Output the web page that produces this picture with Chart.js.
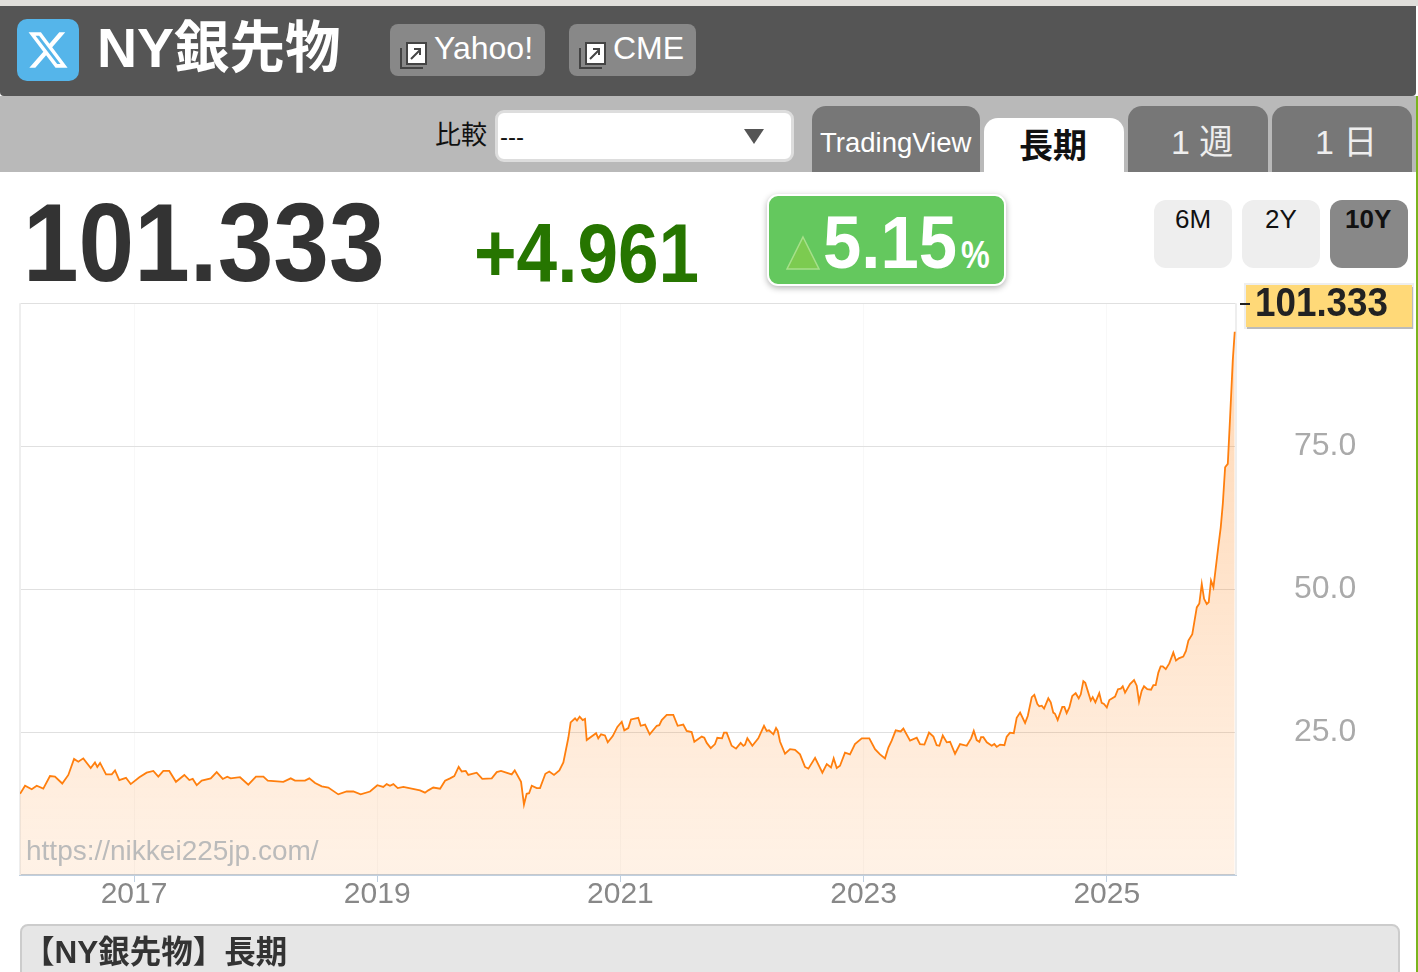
<!DOCTYPE html>
<html lang="ja">
<head>
<meta charset="utf-8">
<title>NY銀先物</title>
<script src="https://cdn.jsdelivr.net/npm/chart.js@4/dist/chart.umd.min.js"></script>
<style>
html, body { margin: 0; padding: 0; width: 1418px; height: 972px; overflow: hidden; background: #fff; }
body { font-family: "Liberation Sans", "Noto Sans CJK JP", sans-serif; position: relative; }
.box { position: absolute; box-sizing: border-box; }
.txt { position: absolute; white-space: nowrap; transform-origin: left top; line-height: 1; }
#topline { left: 0; top: 0; width: 1418px; height: 6px; background: #e0dfdb; }
#edge { left: 1416px; top: 96px; width: 2px; height: 876px; background: #7ab41e; }
#head { left: 0; top: 6px; width: 1416px; height: 90px; background: #555; border-radius: 0 0 4px 4px; }
#tabbar { left: 0; top: 96px; width: 1416px; height: 76px; background: #b9b9b9; }
#panel { left: 0; top: 172px; width: 1416px; height: 800px; background: #fff; border-radius: 5px 5px 0 0; }
#logo { left: 17px; top: 19px; width: 62px; height: 62px; background: #55b5ea; border-radius: 10px; }
.link { background: #888; border-radius: 8px; top: 24px; height: 52px; }
.tab { top: 106px; height: 66px; width: 140px; background: #777; border-radius: 14px 14px 0 0; }
.rng { top: 200px; width: 78px; height: 68px; background: #eee; border-radius: 12px; }
#sel { left: 495px; top: 110px; width: 299px; height: 52px; background: #fff; border: 3px solid #ddd; border-radius: 9px; }
#arrow { left: 744px; top: 129px; width: 0; height: 0; border-left: 10px solid transparent; border-right: 10px solid transparent; border-top: 15px solid #555; }
#badge { left: 767px; top: 194px; width: 239px; height: 92px; background: #64c85e; border: 2px solid #fff; border-radius: 11px; box-shadow: 0 2px 6px rgba(0,0,0,.3); }
#lastbox { left: 1246px; top: 285px; width: 166px; height: 42px; background: #ffd978; box-shadow: 1px 2px 0 #bbb, 0 0 0 2px #eee; }
#dash { left: 1240px; top: 303px; width: 10px; height: 2px; background: #222; }
#note { left: 20px; top: 924px; width: 1380px; height: 60px; background: #e6e6e6; border: 2px solid #ccc; border-radius: 8px 8px 0 0; }
#chart { position: absolute; left: 0; top: 284px; }
</style>
</head>
<body>
<div class="box" id="topline"></div>
<div class="box" id="head"></div>
<div class="box" id="tabbar"></div>
<div class="box" id="panel"></div>
<div class="box" id="edge"></div>

<div class="box" id="logo">
  <svg width="62" height="62" viewBox="0 0 24 24"><path transform="translate(3.6 3.6) scale(.7)" fill="#fff" d="M18.244 2.25h3.308l-7.227 8.26 8.502 11.24H16.17l-5.214-6.817L4.99 21.75H1.68l7.73-8.835L1.254 2.25H8.08l4.713 6.231zm-1.161 17.52h1.833L7.084 4.126H5.117z"/></svg>
</div>
<div class="txt" style="left:97px;top:21px;font-size:55.5px;font-weight:700;color:#fff">NY銀先物</div>

<div class="box link" style="left:390px;width:155px"></div>
<svg class="box" style="left:400px;top:40px" width="28" height="30" viewBox="0 0 28 30"><path d="M1 8v20h22" fill="none" stroke="#444" stroke-width="2"/><rect x="7" y="3" width="19" height="21" fill="#fff" stroke="#444" stroke-width="2"/><path d="M11 19l9-9M14 9h6v6" fill="none" stroke="#444" stroke-width="2"/></svg>
<div class="txt" style="left:434px;top:32px;font-size:32px;color:#fff">Yahoo!</div>
<div class="box link" style="left:569px;width:127px"></div>
<svg class="box" style="left:579px;top:40px" width="28" height="30" viewBox="0 0 28 30"><path d="M1 8v20h22" fill="none" stroke="#444" stroke-width="2"/><rect x="7" y="3" width="19" height="21" fill="#fff" stroke="#444" stroke-width="2"/><path d="M11 19l9-9M14 9h6v6" fill="none" stroke="#444" stroke-width="2"/></svg>
<div class="txt" style="left:613px;top:32px;font-size:32px;color:#fff">CME</div>

<div class="txt" style="left:435px;top:122px;font-size:26px;color:#111">比較</div>
<div class="box" id="sel"></div>
<div class="txt" style="left:500px;top:125px;font-size:24px;color:#111">---</div>
<div class="box" id="arrow"></div>

<div class="box tab" style="left:812px;width:168px"></div>
<div class="txt" style="left:820px;top:129px;font-size:27.5px;color:#fff">TradingView</div>
<div class="box tab" style="left:984px;top:118px;height:54px;background:#fff"></div>
<div class="txt" style="left:1019px;top:129px;font-size:34px;font-weight:700;color:#111">長期</div>
<div class="box tab" style="left:1128px"></div>
<div class="txt" style="left:1171px;top:125px;font-size:34px;color:#eee">1 週</div>
<div class="box tab" style="left:1272px"></div>
<div class="txt" style="left:1315px;top:125px;font-size:34px;color:#eee">1 日</div>

<div class="txt" style="left:23px;top:187px;font-size:112px;font-weight:700;color:#333;transform:scaleX(.893)">101.333</div>
<div class="txt" style="left:474px;top:211px;font-size:84px;font-weight:700;color:#267500;transform:scaleX(.868)">+4.961</div>

<div class="box" id="badge"></div>
<svg class="box" style="left:785px;top:234px" width="36" height="38" viewBox="0 0 36 38"><path d="M18 3L34 35H2z" fill="#7ccb50" stroke="#a6e08a" stroke-width="1.5"/></svg>
<div class="txt" style="left:823px;top:206px;font-size:74px;font-weight:700;color:#fff;transform:scaleX(.93)">5.15</div>
<div class="txt" style="left:961px;top:236px;font-size:38px;font-weight:700;color:#fff;transform:scaleX(.85)">%</div>

<div class="box rng" style="left:1154px"></div>
<div class="txt" style="left:1175px;top:206px;font-size:26px;color:#111">6M</div>
<div class="box rng" style="left:1242px"></div>
<div class="txt" style="left:1265px;top:206px;font-size:26px;color:#111">2Y</div>
<div class="box rng" style="left:1330px;background:#888"></div>
<div class="txt" style="left:1345px;top:206px;font-size:26px;font-weight:700;color:#111">10Y</div>

<canvas id="chart" width="1416" height="657"></canvas>

<div class="txt" style="left:26px;top:837px;font-size:28px;color:#bbb">https://nikkei225jp.com/</div>

<div class="box" id="lastbox"></div>
<div class="box" id="dash"></div>
<div class="txt" style="left:1255px;top:282px;font-size:40px;font-weight:700;color:#222;transform:scaleX(.92)">101.333</div>

<div class="box" id="note"></div>
<div class="txt" style="left:23px;top:937px;font-size:31.5px;font-weight:700;color:#333">【NY銀先物】長期</div>

<script>
const years = [
    2016.063, 2016.104, 2016.159, 2016.200, 2016.254, 2016.309, 2016.350, 2016.410, 2016.460, 2016.507,
    2016.542, 2016.583, 2016.644, 2016.679, 2016.698, 2016.721, 2016.770, 2016.817, 2016.844, 2016.879,
    2016.934, 2016.973, 2017.044, 2017.104, 2017.159, 2017.200, 2017.241, 2017.290, 2017.345, 2017.414,
    2017.455, 2017.483, 2017.516, 2017.557, 2017.631, 2017.680, 2017.730, 2017.767, 2017.795, 2017.872,
    2017.940, 2018.003, 2018.064, 2018.100, 2018.228, 2018.289, 2018.324, 2018.406, 2018.442, 2018.489,
    2018.544, 2018.598, 2018.680, 2018.749, 2018.804, 2018.864, 2018.941, 2019.001, 2019.050, 2019.078,
    2019.105, 2019.133, 2019.169, 2019.215, 2019.352, 2019.393, 2019.420, 2019.461, 2019.517, 2019.558,
    2019.599, 2019.634, 2019.670, 2019.695, 2019.728, 2019.749, 2019.818, 2019.864, 2019.942, 2019.983,
    2020.018, 2020.106, 2020.131, 2020.183, 2020.207, 2020.229, 2020.249, 2020.271, 2020.312, 2020.339,
    2020.383, 2020.415, 2020.454, 2020.498, 2020.531, 2020.572, 2020.591, 2020.627, 2020.643, 2020.665,
    2020.690, 2020.709, 2020.723, 2020.800, 2020.818, 2020.841, 2020.873, 2020.896, 2020.937, 2020.975,
    2021.011, 2021.032, 2021.065, 2021.087, 2021.147, 2021.167, 2021.203, 2021.241, 2021.299, 2021.320,
    2021.340, 2021.381, 2021.435, 2021.471, 2021.517, 2021.545, 2021.586, 2021.608, 2021.669, 2021.690,
    2021.710, 2021.743, 2021.778, 2021.797, 2021.836, 2021.852, 2021.874, 2021.915, 2021.951, 2021.989,
    2022.011, 2022.025, 2022.044, 2022.085, 2022.134, 2022.181, 2022.203, 2022.222, 2022.258, 2022.280,
    2022.294, 2022.313, 2022.354, 2022.395, 2022.436, 2022.477, 2022.518, 2022.546, 2022.601, 2022.661,
    2022.697, 2022.732, 2022.754, 2022.779, 2022.806, 2022.847, 2022.888, 2022.929, 2022.985, 2023.047,
    2023.094, 2023.135, 2023.176, 2023.204, 2023.231, 2023.264, 2023.305, 2023.327, 2023.382, 2023.437,
    2023.464, 2023.500, 2023.538, 2023.574, 2023.601, 2023.623, 2023.651, 2023.684, 2023.711, 2023.752,
    2023.793, 2023.848, 2023.884, 2023.906, 2023.930, 2023.952, 2023.966, 2023.985, 2024.013, 2024.054,
    2024.075, 2024.095, 2024.122, 2024.158, 2024.177, 2024.204, 2024.235, 2024.259, 2024.287, 2024.328,
    2024.350, 2024.383, 2024.404, 2024.429, 2024.445, 2024.465, 2024.484, 2024.519, 2024.539, 2024.560,
    2024.574, 2024.596, 2024.634, 2024.651, 2024.670, 2024.692, 2024.716, 2024.744, 2024.769, 2024.786,
    2024.807, 2024.823, 2024.868, 2024.884, 2024.906, 2024.938, 2024.958, 2024.977, 2025.000, 2025.021,
    2025.068, 2025.092, 2025.115, 2025.131, 2025.150, 2025.191, 2025.224, 2025.246, 2025.265, 2025.287,
    2025.306, 2025.333, 2025.364, 2025.383, 2025.402, 2025.424, 2025.443, 2025.460, 2025.485, 2025.514,
    2025.547, 2025.569, 2025.592, 2025.629, 2025.651, 2025.671, 2025.703, 2025.740, 2025.761, 2025.781,
    2025.800, 2025.822, 2025.838, 2025.857, 2025.877, 2025.918, 2025.937, 2025.954, 2025.973, 2025.995,
    2026.014, 2026.036, 2026.052
];
const silver = [
    14.2, 15.6, 15.0, 15.6, 15.1, 17.3, 17.2, 16.0, 17.5, 20.3,
    19.8, 20.4, 18.7, 19.7, 18.9, 19.6, 17.6, 17.6, 18.3, 16.6,
    17.0, 15.9, 17.1, 17.9, 18.2, 17.2, 18.2, 18.2, 16.3, 17.5,
    16.6, 16.8, 15.7, 16.5, 16.9, 18.0, 16.8, 17.2, 16.9, 17.1,
    15.8, 17.2, 17.2, 16.5, 16.3, 16.9, 16.5, 16.5, 16.9, 16.1,
    15.5, 15.3, 14.1, 14.6, 14.6, 14.1, 14.6, 15.7, 15.4, 15.9,
    15.6, 15.9, 15.2, 15.4, 14.8, 14.4, 14.8, 15.3, 15.1, 16.5,
    16.9, 17.3, 18.9, 18.1, 18.2, 17.5, 17.9, 16.8, 16.9, 18.0,
    18.2, 17.6, 18.3, 16.3, 12.3, 14.2, 14.3, 15.6, 15.2, 15.2,
    17.7, 18.1, 17.5, 18.3, 19.7, 24.0, 26.7, 27.4, 27.0, 27.7,
    27.1, 27.3, 23.6, 24.8, 23.9, 24.6, 24.4, 23.2, 24.3, 25.9,
    26.8, 25.3, 25.7, 27.2, 27.5, 26.1, 26.3, 24.6, 26.1, 26.2,
    27.1, 28.0, 28.0, 26.1, 26.3, 25.2, 25.0, 23.3, 24.2, 24.0,
    23.1, 22.2, 22.9, 24.0, 23.9, 24.9, 24.9, 22.6, 22.1, 23.1,
    22.6, 22.8, 23.9, 22.6, 23.9, 26.1, 25.2, 25.3, 24.6, 25.7,
    25.2, 23.3, 21.2, 22.0, 21.9, 21.1, 18.9, 18.6, 20.5, 17.9,
    19.4, 18.8, 20.4, 18.7, 19.1, 21.4, 21.1, 22.9, 23.9, 23.9,
    22.0, 21.1, 20.4, 22.3, 23.5, 25.3, 25.1, 25.6, 23.5, 24.0,
    22.9, 22.8, 24.9, 24.2, 22.7, 22.6, 24.4, 23.2, 23.3, 21.2,
    22.9, 22.6, 23.9, 25.2, 23.6, 23.3, 24.1, 24.1, 23.2, 22.6,
    22.9, 22.4, 22.8, 22.7, 24.2, 24.9, 24.8, 27.5, 28.4, 26.6,
    27.8, 31.1, 31.5, 29.9, 29.5, 29.6, 29.1, 30.9, 30.2, 28.4,
    28.2, 27.1, 29.4, 29.4, 28.3, 29.3, 31.3, 31.8, 30.9, 31.6,
    33.9, 33.6, 30.5, 31.1, 30.2, 31.8, 30.1, 29.9, 29.3, 30.6,
    31.2, 32.5, 32.6, 33.0, 31.9, 33.4, 34.1, 33.1, 30.3, 32.2,
    33.0, 32.5, 32.4, 33.2, 33.2, 35.4, 36.5, 36.5, 36.0, 37.0,
    38.9, 37.5, 37.9, 38.2, 39.2, 41.0, 42.1, 46.8, 47.5, 50.9,
    48.3, 47.4, 47.7, 51.5, 50.3, 57.6, 60.8, 64.9, 71.3, 71.9,
    80.1, 90.0, 95.0
];
const xTickYears = [2017, 2019, 2021, 2023, 2025];
const yTickValues = [0, 25, 50, 75, 100];
const yTickLabels = ["", "25.0", "50.0", "75.0", ""];

// left/right edges of the plot, the top edge comes from the y=100 grid line
const plotEdges = {
    id: "plotEdges",
    beforeDatasetsDraw(chart) {
        const { ctx, chartArea } = chart;
        ctx.save();
        ctx.strokeStyle = "#eeeeee";
        ctx.lineWidth = 2;
        ctx.beginPath();
        ctx.moveTo(chartArea.left, chartArea.top);
        ctx.lineTo(chartArea.left, chartArea.bottom);
        ctx.moveTo(chartArea.right, chartArea.top);
        ctx.lineTo(chartArea.right, chartArea.bottom);
        ctx.stroke();
        ctx.restore();
    },
};

new Chart(document.getElementById("chart"), {
    type: "line",
    data: {
        datasets: [
            {
                label: "NY銀先物",
                data: years.map((y, i) => ({ x: y, y: silver[i] })),
                borderColor: "#ff7f0e",
                borderWidth: 1.8,
                pointRadius: 0,
                tension: 0,
                fill: "origin",
                backgroundColor: function (context) {
                    const area = context.chart.chartArea;
                    if (!area) return "rgba(255,127,14,0.12)";
                    const g = context.chart.ctx.createLinearGradient(0, area.top, 0, area.bottom);
                    g.addColorStop(0, "rgba(255,127,14,0.32)");
                    g.addColorStop(1, "rgba(255,127,14,0.10)");
                    return g;
                },
            },
        ],
    },
    plugins: [plotEdges],
    options: {
        responsive: false,
        animation: false,
        layout: { padding: { left: 20, top: 19, right: 0, bottom: 0 } },
        plugins: { legend: { display: false }, tooltip: { enabled: false } },
        scales: {
            x: {
                type: "linear",
                min: 2016.0625,
                max: 2026.0625,
                afterBuildTicks: (scale) => { scale.ticks = xTickYears.map((v) => ({ value: v })); },
                afterFit: (scale) => { scale.height = 66; },
                border: { color: "#c0d0e0", width: 2 },
                grid: { color: "#f8f8f8", tickColor: "#c0d0e0", tickLength: 7 },
                ticks: {
                    autoSkip: false,
                    maxRotation: 0,
                    padding: -5,
                    color: "#888888",
                    font: { family: "'Liberation Sans'", size: 30 },
                    callback: (v) => String(v),
                },
            },
            y: {
                position: "right",
                min: 0,
                max: 100,
                afterBuildTicks: (scale) => { scale.ticks = yTickValues.map((v) => ({ value: v })); },
                afterFit: (scale) => { scale.width = 1416 - 1236; },
                border: { display: false },
                // the tick length sets the label offset; tick padding would also shrink the plot height
                grid: {
                    color: (c) => (c.tick && c.tick.value === 0 ? "transparent" : "#e0e0e0"),
                    tickColor: "transparent",
                    tickLength: 58,
                },
                ticks: {
                    autoSkip: false,
                    padding: 0,
                    color: "#aaaaaa",
                    font: { family: "'Liberation Sans'", size: 32 },
                    callback: (v) => yTickLabels[yTickValues.indexOf(v)],
                },
            },
        },
    },
});
</script>
</body>
</html>
